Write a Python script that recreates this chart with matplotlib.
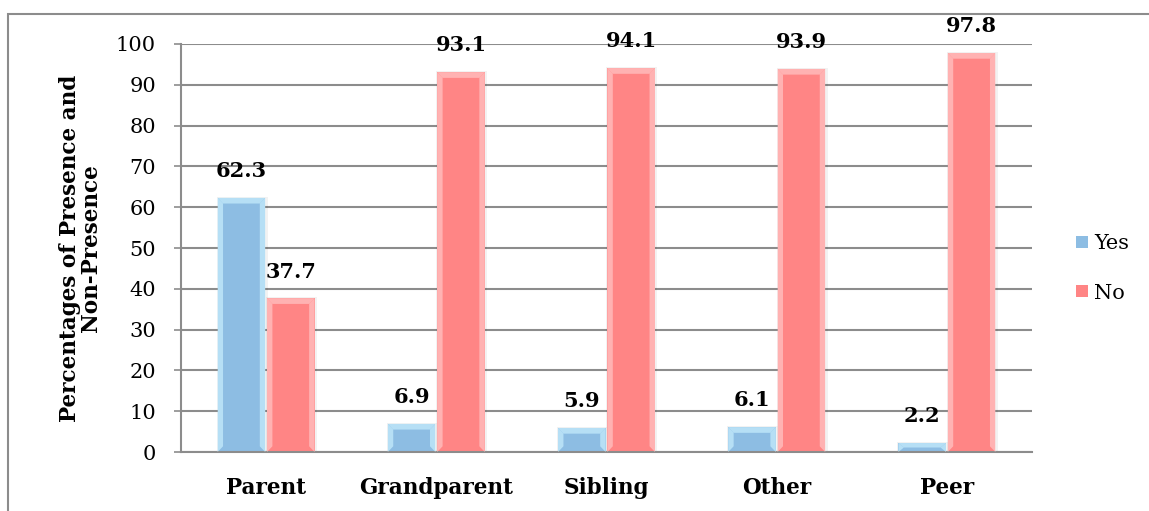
import matplotlib.pyplot as plt
import numpy as np
from matplotlib.patches import Polygon, Rectangle

categories = ['Parent', 'Grandparent', 'Sibling', 'Other', 'Peer']
yes_values = [62.3, 6.9, 5.9, 6.1, 2.2]
no_values = [37.7, 93.1, 94.1, 93.9, 97.8]
series_names = ['Yes', 'No']
y_ticks = list(range(0, 101, 10))

plt.rcParams['font.family'] = ['DejaVu Serif']

fig = plt.figure(figsize=(11.49, 5.11), dpi=100)
ax = fig.add_axes([181 / 1149, 59 / 511, 851 / 1149, 408 / 511])

# outer chart border
fig.patches.append(Rectangle((8 / 1149, -0.05), 1.2, (511 - 14) / 511 + 0.05,
                             transform=fig.transFigure, fill=False,
                             edgecolor='#8c8c8c', linewidth=1.5))

x = np.arange(len(categories))
width = 0.28
colors = {'Yes': ('#8dbde3', '#c4ebfc'), 'No': ('#ff8585', '#ffc2c2')}


def bevel(ax, rect, main, light):
    # soft shadow plus light slanted edges on the sides and top of each bar
    x0, y0 = rect.get_x(), rect.get_y()
    w, h = rect.get_width(), rect.get_height()
    ax.add_patch(Rectangle((x0 - 0.006, y0), w + 0.02, h + 0.3, facecolor='#000000',
                           alpha=0.05, edgecolor='none', zorder=1.9))
    bx = 0.032
    by = min(1.4, h / 2)
    x1 = x0 + w
    y1 = y0 + h
    sides = [
        [(x0, y0), (x0 + bx, y0 + by), (x0 + bx, y1 - by), (x0, y1)],
        [(x1, y0), (x1 - bx, y0 + by), (x1 - bx, y1 - by), (x1, y1)],
        [(x0, y1), (x0 + bx, y1 - by), (x1 - bx, y1 - by), (x1, y1)],
    ]
    for pts in sides:
        ax.add_patch(Polygon(pts, closed=True, facecolor=light, edgecolor='none',
                             alpha=0.75, zorder=3))


for name, vals, off in [('Yes', yes_values, -width / 2 - 0.005), ('No', no_values, width / 2 + 0.005)]:
    main, light = colors[name]
    bars = ax.bar(x + off, vals, width, color=main, label=name, zorder=2)
    for rect, v in zip(bars, vals):
        bevel(ax, rect, main, light)
        ax.annotate('%.1f' % v, (rect.get_x() + rect.get_width() / 2, v),
                    xytext=(0, 12), textcoords='offset points', ha='center', va='bottom',
                    fontsize=15, fontweight='bold', zorder=4)

ax.set_xlim(-0.5, len(categories) - 0.5)
ax.set_ylim(0, 100)
ax.set_yticks(y_ticks)
ax.set_xticks(x)
ax.set_xticklabels(categories, fontsize=15.5, fontweight='bold')
ax.tick_params(axis='y', labelsize=15, length=5, width=1.2, color='#8c8c8c', pad=13)
ax.tick_params(axis='x', length=0, pad=18)
ax.yaxis.grid(True, color='#8c8c8c', linewidth=1.5)
ax.set_axisbelow(True)
for s in ['top', 'right']:
    ax.spines[s].set_visible(False)
ax.spines['left'].set_color('#8c8c8c')
ax.spines['left'].set_linewidth(1.5)
ax.spines['bottom'].set_color('#8c8c8c')
ax.spines['bottom'].set_linewidth(1.5)

ax.set_ylabel('Percentages of Presence and\nNon-Presence', fontsize=15.5,
              fontweight='bold', linespacing=0.95, labelpad=10)

leg = ax.legend(loc='center left', bbox_to_anchor=(1.03, 0.45), frameon=False,
                fontsize=15, handlelength=0.55, handleheight=0.55, handletextpad=0.3,
                labelspacing=1.45)

fig.savefig('out.png', dpi=100)
